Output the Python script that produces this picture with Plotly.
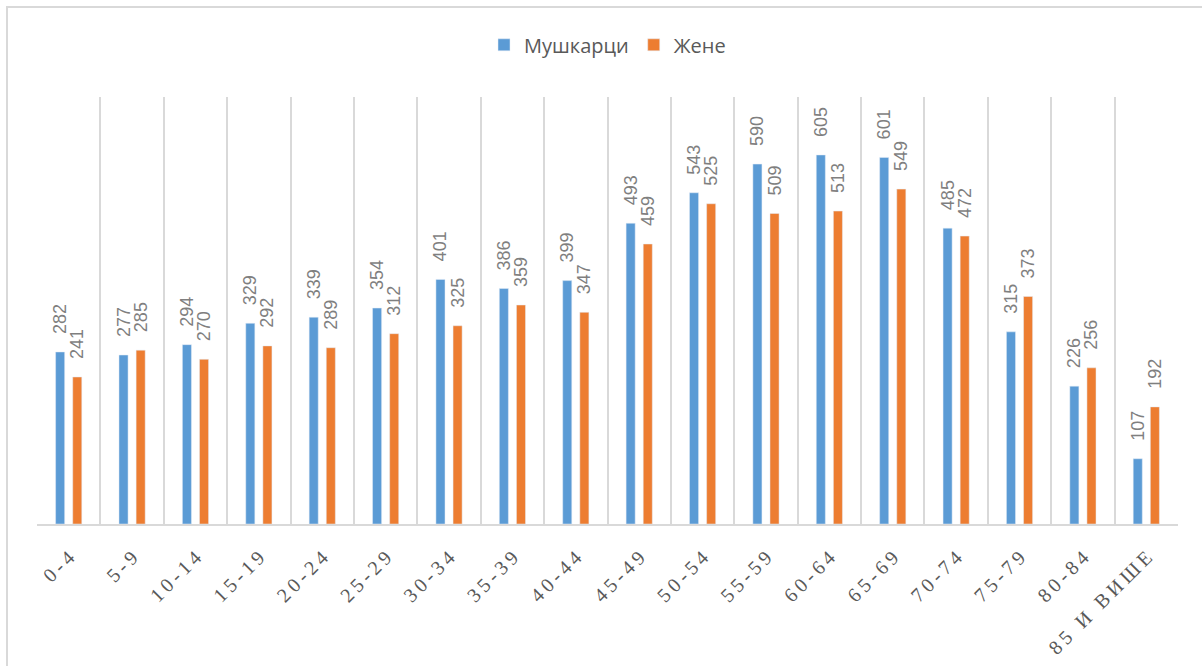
import plotly.graph_objects as go

categories = ["0-4", "5-9", "10-14", "15-19", "20-24", "25-29", "30-34", "35-39",
              "40-44", "45-49", "50-54", "55-59", "60-64", "65-69", "70-74",
              "75-79", "80-84", "85 И ВИШЕ"]
men = [282, 277, 294, 329, 339, 354, 401, 386, 399, 493, 543, 590, 605, 601, 485, 315, 226, 107]
women = [241, 285, 270, 292, 289, 312, 325, 359, 347, 459, 525, 509, 513, 549, 472, 373, 256, 192]

# spaced-out tick text (emulates the letter spacing of the original)
tick_text = ["\u2009".join(list(c)) for c in categories]

label_font = dict(family="Liberation Sans, Arial", size=18, color="#7f7f7f")
pad = "\u00a0\u00a0\u00a0"  # leading pad: text is rotated, so it sits between bar and number

fig = go.Figure()
fig.add_trace(go.Bar(name="Мушкарци", x=categories, y=men, marker_color="#5B9BD5",
                     text=men, texttemplate=pad + "%{text}", textposition="outside",
                     textangle=-90, constraintext="none",
                     textfont=label_font, cliponaxis=False))
fig.add_trace(go.Bar(name="Жене", x=categories, y=women, marker_color="#ED7D31",
                     text=women, texttemplate=pad + "%{text}", textposition="outside",
                     textangle=-90, constraintext="none",
                     textfont=label_font, cliponaxis=False))

fig.update_layout(
    width=1202, height=666,
    margin=dict(l=37, r=24, t=97, b=142, autoexpand=False),
    paper_bgcolor="white", plot_bgcolor="white",
    barmode="group", bargap=0.46, bargroupgap=0.47,
    legend=dict(orientation="h", x=0.5, xanchor="center", y=0.962, yref="container",
                yanchor="top", font=dict(family="Open Sans, Liberation Sans", size=20, color="#595959"),
                traceorder="normal", itemwidth=30),
    xaxis=dict(type="category", tickson="boundaries", showgrid=True, gridcolor="#d9d9d9",
               gridwidth=2, tickangle=-45, ticks="", showline=True, linecolor="#d9d9d9",
               linewidth=2, ticklabelstandoff=12, automargin=False,
               tickmode="array", tickvals=categories, ticktext=tick_text,
               tickfont=dict(family="Liberation Serif, Times New Roman", size=20, color="#595959")),
    yaxis=dict(range=[0, 700], showgrid=False, showticklabels=False, zeroline=False,
               showline=False, automargin=False),
    shapes=[dict(type="rect", xref="paper", yref="paper", x0=-0.0263, x1=1.1,
                 y0=-0.5, y1=1.2107, line=dict(color="#d9d9d9", width=2), layer="below")],
)
fig.write_html("out.html", config={"displayModeBar": False},
               post_script="document.body.style.margin='0';document.body.style.overflow='hidden';")
